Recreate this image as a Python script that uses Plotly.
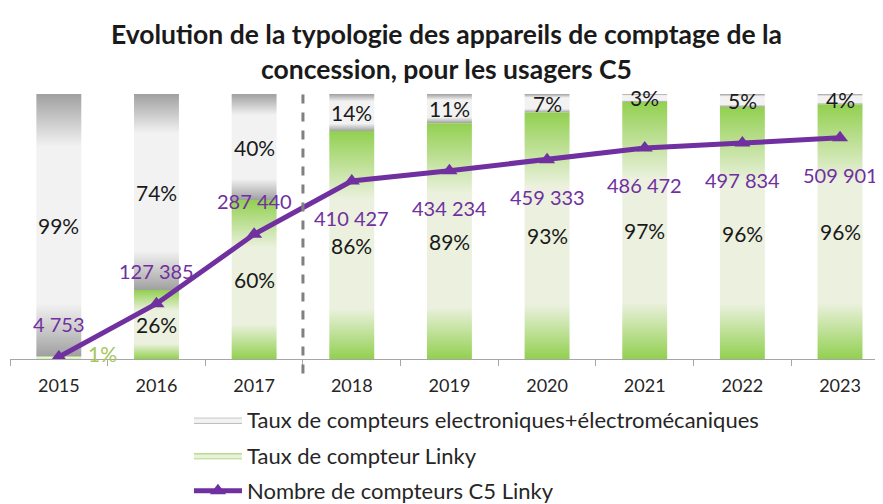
import plotly.graph_objects as go

# ---- data ----
annees = ["2015", "2016", "2017", "2018", "2019", "2020", "2021", "2022", "2023"]
taux_linky = [1, 26, 60, 86, 89, 93, 97, 96, 96]
taux_autres = [99, 74, 40, 14, 11, 7, 3, 5, 4]
nb_linky = [4753, 127385, 287440, 410427, 434234, 459333, 486472, 497834, 509901]
labels_nb = ["4 753", "127 385", "287 440", "410 427", "434 234",
             "459 333", "486 472", "497 834", "509 901"]

FONT = "Lato"
PURPLE = "#7030A0"
GREEN = "#92D050"
PALE_GREEN = "#EBF1DE"
GREY = "#A0A0A0"
LIGHT = "#F2F2F2"
HALF = 0.23

grey_scale = [[0, GREY], [0.2, LIGHT], [0.8, LIGHT], [1, GREY]]
green_scale = [[0, GREEN], [0.22, PALE_GREEN], [0.7, PALE_GREEN], [1, GREEN]]

fig = go.Figure()
xs = list(range(len(annees)))

# grey segments (upper part)
for i, x in enumerate(xs):
    tot = taux_linky[i] + taux_autres[i]
    lo = taux_linky[i] / tot * 100
    fig.add_trace(go.Scatter(
        x=[x - HALF, x + HALF, x + HALF, x - HALF, x - HALF],
        y=[lo, lo, 100, 100, lo],
        mode="lines", fill="toself", line=dict(width=0, color=LIGHT),
        fillgradient=dict(type="vertical", colorscale=grey_scale),
        name="Taux de compteurs electroniques+électromécaniques",
        legendgroup="autres", showlegend=(i == 0), hoverinfo="skip"))

# green segments (lower part)
for i, x in enumerate(xs):
    tot = taux_linky[i] + taux_autres[i]
    hi = taux_linky[i] / tot * 100
    fig.add_trace(go.Scatter(
        x=[x - HALF, x + HALF, x + HALF, x - HALF, x - HALF],
        y=[0, 0, hi, hi, 0],
        mode="lines", fill="toself", line=dict(width=0, color=PALE_GREEN),
        fillgradient=dict(type="vertical", colorscale=green_scale),
        name="Taux de compteur Linky",
        legendgroup="linky", showlegend=(i == 0), hoverinfo="skip"))

# line on secondary axis
fig.add_trace(go.Scatter(
    x=xs, y=nb_linky, yaxis="y2", mode="lines+markers",
    line=dict(color=PURPLE, width=5),
    marker=dict(symbol="triangle-up", size=14, color=PURPLE),
    name="Nombre de compteurs C5 Linky", legendgroup="nb"))

annotations = []
for i, x in enumerate(xs):
    tot = taux_linky[i] + taux_autres[i]
    l = taux_linky[i] / tot * 100
    annotations.append(dict(x=x, y=l + (100 - l) / 2, xref="x", yref="y",
                            text=f"{taux_autres[i]}%", showarrow=False,
                            font=dict(family=FONT, size=21, color="#1a1a1a")))
    if i == 0:
        annotations.append(dict(x=x + 0.45, y=l, xref="x", yref="y",
                                text=f"{taux_linky[i]}%", showarrow=False,
                                yshift=3,
                                font=dict(family=FONT, size=21, color="#A6C65A")))
    else:
        annotations.append(dict(x=x, y=l / 2, xref="x", yref="y",
                                text=f"{taux_linky[i]}%", showarrow=False,
                                font=dict(family=FONT, size=21, color="#1a1a1a")))
    annotations.append(dict(x=x, y=nb_linky[i], xref="x", yref="y2",
                            text=labels_nb[i], showarrow=False,
                            yshift=33 if i < 3 else -37,
                            font=dict(family=FONT, size=20, color=PURPLE)))

fig.update_layout(
    width=875, height=496,
    margin=dict(l=2, r=0, t=86, b=145, autoexpand=False),
    paper_bgcolor="white", plot_bgcolor="white",
    font=dict(family=FONT, color="#262626"),
    title=dict(text="<b>Evolution de la typologie des appareils de comptage de la<br>concession, pour les usagers C5</b>",
               x=0.5, xref="paper", xanchor="center", yref="container",
               y=0.927, yanchor="middle",
               font=dict(family=FONT, size=26.5, color="#1a1a1a")),
    xaxis=dict(range=[-0.5, 8.44], tickmode="array", tickvals=xs, ticktext=annees,
               ticks="", showline=True, linecolor="#A6A6A6", linewidth=1,
               showgrid=False, zeroline=False, ticklabelstandoff=10,
               tickfont=dict(family=FONT, size=18, color="#262626"),
               minor=dict(tickmode="array", tickvals=[k - 0.5 for k in range(10)],
                          ticks="outside", ticklen=6, tickcolor="#A6A6A6", showgrid=False)),
    yaxis=dict(range=[0, 100], visible=False, fixedrange=True),
    yaxis2=dict(range=[0, 611000], overlaying="y", visible=False),
    legend=dict(orientation="v", x=0.205, xanchor="left",
                yref="container", y=0.212, yanchor="top",
                font=dict(family=FONT, size=22, color="#262626"),
                traceorder="grouped", tracegroupgap=4, itemwidth=48,
                bgcolor="rgba(0,0,0,0)"),
    shapes=[dict(type="line", xref="x", yref="paper", x0=2.5, x1=2.5,
                 y0=-0.055, y1=1.015,
                 line=dict(color="#808080", width=3, dash="dash"))],
    annotations=annotations,
    showlegend=True,
)

fig.write_html("out.html")
